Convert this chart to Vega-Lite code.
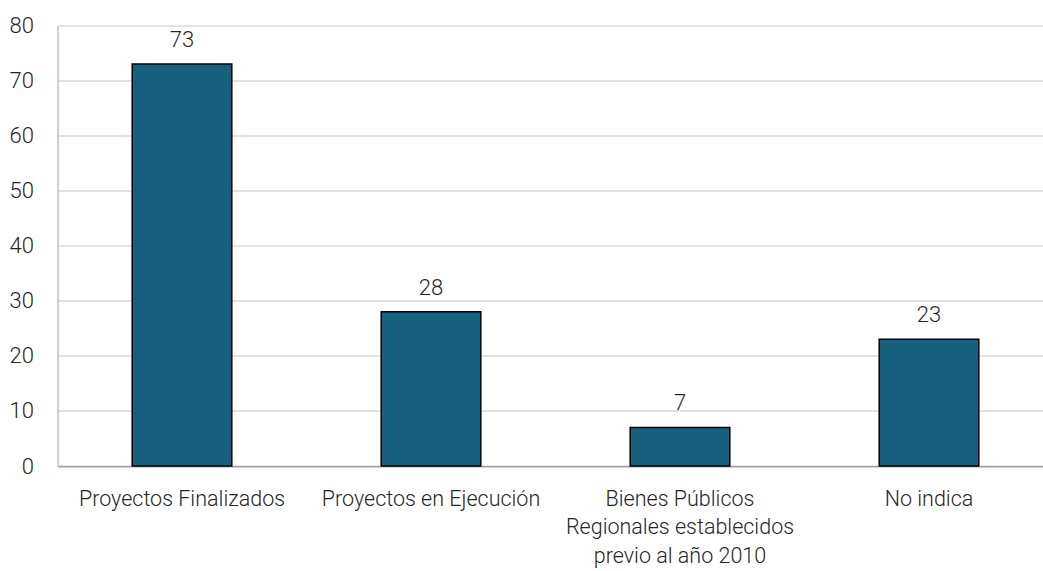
{
  "$schema": "https://vega.github.io/schema/vega-lite/v6.json",
  "autosize": "none",
  "padding": {"left": 57.5, "top": 25.5, "right": 0, "bottom": 105},
  "width": 985.5,
  "height": 440.5,
  "background": "white",
  "config": {
    "view": {"stroke": null},
    "font": "Roboto",
    "text": {"font": "Roboto"}
  },
  "data": {
    "values": [
      {"categoria": "Proyectos Finalizados", "valor": 73},
      {"categoria": "Proyectos en Ejecución", "valor": 28},
      {"categoria": "Bienes Públicos Regionales establecidos previo al año 2010", "valor": 7},
      {"categoria": "No indica", "valor": 23}
    ]
  },
  "encoding": {
    "x": {
      "field": "categoria",
      "type": "nominal",
      "sort": null,
      "scale": {"range": [0, 996], "paddingInner": 0.6, "paddingOuter": 0.3},
      "axis": {
        "title": null,
        "labelAngle": 0,
        "labelFont": "Roboto",
        "labelFontSize": 21.5,
        "labelFontWeight": 300,
        "labelColor": "#262626",
        "labelPadding": 22,
        "labelBaseline": "top",
        "labelLineHeight": 28.5,
        "labelLimit": 400,
        "ticks": false,
        "domainColor": "#a0a0a0",
        "domainWidth": 1.5,
        "labelExpr": "datum.label == 'Bienes Públicos Regionales establecidos previo al año 2010' ? ['Bienes Públicos', 'Regionales establecidos', 'previo al año 2010'] : datum.label"
      }
    },
    "y": {
      "field": "valor",
      "type": "quantitative",
      "scale": {"domain": [0, 80], "nice": false},
      "axis": {
        "title": null,
        "values": [0, 10, 20, 30, 40, 50, 60, 70, 80],
        "labelFont": "Roboto",
        "labelFontSize": 22,
        "labelFontWeight": 300,
        "labelColor": "#262626",
        "labelPadding": 24,
        "ticks": false,
        "domainColor": "#bfbfbf",
        "domainWidth": 1.5,
        "gridColor": "#d9d9d9",
        "gridWidth": 1.5
      }
    }
  },
  "layer": [
    {
      "mark": {"type": "bar", "color": "#18607f", "stroke": "#000000", "strokeWidth": 1.5}
    },
    {
      "mark": {"type": "text", "dy": -17, "baseline": "alphabetic", "fontSize": 22, "fontWeight": 300, "color": "#262626", "font": "Roboto"},
      "encoding": {"text": {"field": "valor", "type": "quantitative"}}
    }
  ]
}
